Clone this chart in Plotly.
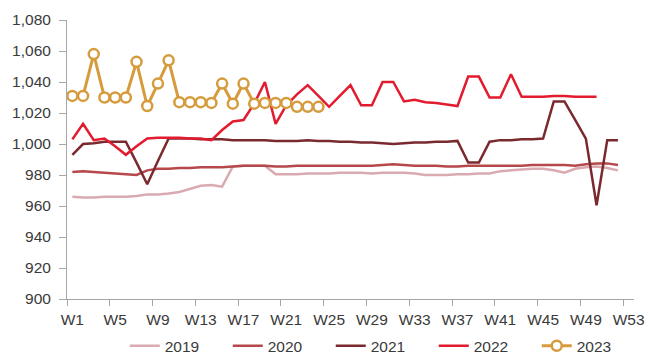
import plotly.graph_objects as go

weeks = [f"W{i}" for i in range(1, 54)]

y2019 = [966, 965.5, 965.5, 966, 966, 966, 966.5, 967.5, 967.5, 968, 969, 971, 973, 973.5,
         972.5, 985.5, 986, 986, 986, 980.5, 980.5, 980.5, 981, 981, 981, 981.5, 981.5,
         981.5, 981, 981.5, 981.5, 981.5, 981, 980, 980, 980, 980.5, 980.5, 981, 981,
         982.5, 983, 983.5, 984, 984, 983, 981.5, 984, 985, 985.5, 984.5, 983]
y2020 = [982, 982.5, 982, 981.5, 981, 980.5, 980, 983, 984, 984, 984.5, 984.5, 985, 985,
         985, 985.5, 986, 986, 986, 985.5, 985.5, 986, 986, 986, 986, 986, 986, 986, 986,
         986.5, 987, 986.5, 986, 986, 986, 985.5, 985.5, 986, 986, 986, 986, 986, 986,
         986.5, 986.5, 986.5, 986.5, 986, 987, 987.5, 987.5, 986.5]
y2021 = [993, 1000, 1000.5, 1001.5, 1001.5, 1001.5, 988, 974, 989, 1003.5, 1003.5, 1003.5,
         1003, 1003, 1003, 1002.5, 1002.5, 1002.5, 1002.5, 1002, 1002, 1002, 1002.5, 1002,
         1002, 1001.5, 1001.5, 1001, 1001, 1000.5, 1000, 1000.5, 1001, 1001, 1001.5, 1001.5,
         1002, 988, 988, 1001.5, 1002.5, 1002.5, 1003, 1003, 1003.5, 1027.5, 1027.5, 1015.5,
         1003.5, 960.5, 1002.5, 1002.5]
y2022 = [1003, 1013, 1002.5, 1003.5, 998.5, 993, 998.5, 1003.5, 1004, 1004, 1004, 1003.5,
         1003.5, 1002.5, 1009, 1014.5, 1015.5, 1026, 1040, 1013, 1025, 1032, 1038, 1031, 1024,
         1031, 1038, 1025, 1025, 1040, 1040, 1027.5, 1028.5, 1027, 1026.5, 1025.5, 1024.5,
         1043.5, 1043.5, 1030, 1030, 1045, 1030.5, 1030.5, 1030.5, 1031, 1031, 1030.5,
         1030.5, 1030.5]
y2023 = [1031, 1031, 1058, 1030, 1030, 1030, 1053, 1024.5, 1039, 1054, 1027, 1027, 1027,
         1026.5, 1039, 1026, 1039, 1026, 1026.5, 1026.5, 1026.5, 1024, 1024, 1024]

series = [
    ("2019", y2019, "#d9aab0"),
    ("2020", y2020, "#b6484b"),
    ("2021", y2021, "#7a2a2f"),
    ("2022", y2022, "#e21b2e"),
]

fig = go.Figure()
for name, vals, color in series:
    fig.add_trace(go.Scatter(x=weeks[:len(vals)], y=vals, name=name, mode="lines",
                             line=dict(color=color, width=2.5)))

fig.add_trace(go.Scatter(x=weeks[:len(y2023)], y=y2023, name="2023", mode="lines+markers",
                         line=dict(color="#d69b3c", width=3),
                         marker=dict(size=10, color="white",
                                     line=dict(color="#d69b3c", width=2.5))))

axis_font = dict(family="Liberation Sans, Arial, sans-serif", size=15.5, color="#3a3a3a")

fig.update_layout(
    width=648, height=356,
    margin=dict(l=67, r=14, t=20, b=57, autoexpand=False),
    paper_bgcolor="white", plot_bgcolor="white",
    showlegend=True,
    legend=dict(orientation="h", x=0.556, xanchor="center", y=-0.108, yanchor="top",
                font=axis_font, entrywidth=58, entrywidthmode="pixels",
                tracegroupgap=0, bgcolor="rgba(0,0,0,0)"),
    xaxis=dict(type="category", categoryorder="array", categoryarray=weeks,
               range=[-0.5, 52.5], dtick=4, tickson="boundaries", tickangle=0,
               automargin=False, ticklabelstandoff=6,
               showline=True, linecolor="#a6a6a6", linewidth=1,
               ticks="outside", ticklen=6, tickcolor="#a6a6a6",
               showgrid=False, tickfont=axis_font, zeroline=False),
    yaxis=dict(range=[900, 1080], dtick=20, tickformat=",", automargin=False,
               ticklabelstandoff=5,
               showline=True, linecolor="#a6a6a6", linewidth=1,
               ticks="outside", ticklen=7, tickcolor="#a6a6a6",
               showgrid=False, tickfont=axis_font, zeroline=False),
)

# the page's default body margin would shift the figure by 8px
fig.write_html("out.html", config={"displayModeBar": False},
               post_script="document.body.style.margin='0';")
